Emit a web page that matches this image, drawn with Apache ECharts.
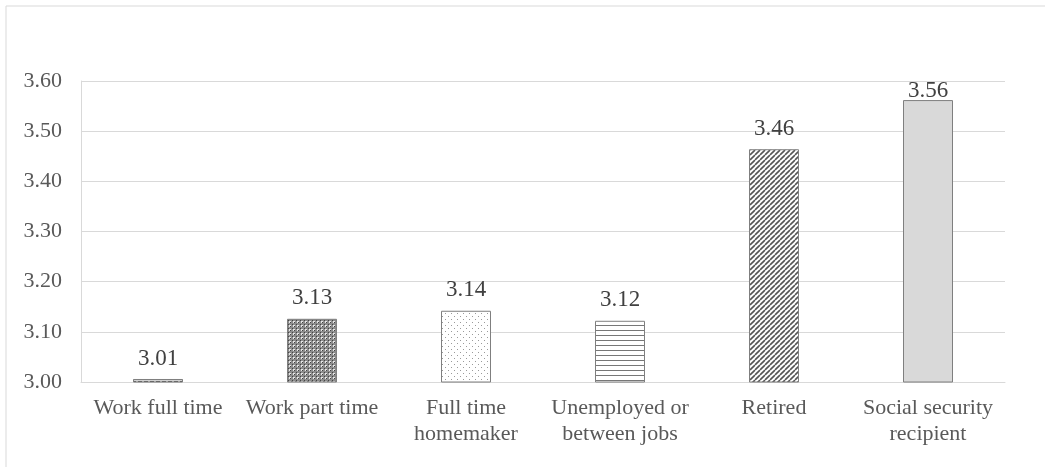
<!DOCTYPE html>
<html>
<head>
<meta charset="utf-8">
<script src="https://cdn.jsdelivr.net/npm/echarts@6/dist/echarts.min.js"></script>
<style>html,body{margin:0;padding:0;background:#fff}#c{width:1045px;height:467px}</style>
</head>
<body>
<div id="c"></div>
<script>
const categories = ['Work full time', 'Work part time', 'Full time\nhomemaker', 'Unemployed or\nbetween jobs', 'Retired', 'Social security\nrecipient'];
const values = [3.006, 3.126, 3.142, 3.122, 3.464, 3.562];
const yTicks = [3.00, 3.10, 3.20, 3.30, 3.40, 3.50, 3.60];

function pat(w, h, draw) {
  const c = document.createElement('canvas');
  c.width = w; c.height = h;
  const g = c.getContext('2d');
  draw(g);
  return { image: c, repeat: 'repeat' };
}
const patterns = [
  pat(6, 3, g => { g.fillStyle = '#d0d0d0'; g.fillRect(0,0,6,3); g.fillStyle = '#555'; g.fillRect(0,0,4,2); }),
  pat(4, 4, g => { g.fillStyle = '#8c8c8c'; g.fillRect(0,0,4,4); g.fillStyle = '#e6e6e6'; g.fillRect(1,1,2,2); g.fillStyle = '#444'; g.fillRect(0,0,1,1); g.fillRect(2,2,1,1); }),
  pat(6, 6, g => { g.fillStyle = '#ffffff'; g.fillRect(0,0,6,6); g.fillStyle = '#9a9a9a'; g.fillRect(1,1,1,1); g.fillRect(4,4,1,1); }),
  pat(5, 5, g => { g.fillStyle = '#ffffff'; g.fillRect(0,0,5,5); g.fillStyle = '#777'; g.fillRect(0,0,5,1); }),
  pat(5, 5, g => { g.fillStyle = '#ffffff'; g.fillRect(0,0,5,5); g.strokeStyle = '#555'; g.lineWidth = 1.6; g.beginPath(); for (let k=-5;k<=10;k+=5){ g.moveTo(k,5); g.lineTo(k+5,0);} g.stroke(); }),
  '#d9d9d9'
];

const chart = echarts.init(document.getElementById('c'), null, { renderer: 'canvas' });
chart.setOption({
  animation: false,
  backgroundColor: '#fff',
  graphic: [{
    type: 'rect', shape: { x: 6, y: 6, width: 1200, height: 600 },
    style: { fill: 'none', stroke: '#d9d9d9', lineWidth: 1 }, silent: true, z: -1
  }],
  grid: { left: 81, right: 40, top: 81, bottom: 85 },
  xAxis: {
    type: 'category', data: categories,
    axisLine: { lineStyle: { color: '#d9d9d9' } },
    axisTick: { show: false },
    axisLabel: { interval: 0, margin: 13, color: '#595959', fontFamily: 'Liberation Serif', fontSize: 22, lineHeight: 26 }
  },
  yAxis: {
    type: 'value', min: 3.0, max: 3.6, interval: 0.1,
    axisLine: { show: true, lineStyle: { color: '#d9d9d9' } },
    axisTick: { show: false },
    splitLine: { lineStyle: { color: '#d9d9d9' } },
    axisLabel: { margin: 19, color: '#595959', fontFamily: 'Liberation Serif', fontSize: 22,
      formatter: v => { const t = yTicks.find(x => Math.abs(x - v) < 1e-6); return (t !== undefined ? t : v).toFixed(2); } }
  },
  series: [{
    type: 'bar', barWidth: 50,
    data: values.map((v, i) => {
      const item = { value: v, itemStyle: { color: patterns[i], borderColor: '#7f7f7f', borderWidth: 1 } };
      if (i === values.length - 1) item.label = { offset: [0, 11] };
      return item;
    }),
    label: { show: true, position: 'top', distance: 9, color: '#404040', fontFamily: 'Liberation Serif', fontSize: 23,
      formatter: p => p.value.toFixed(2) }
  }]
});
</script>
</body>
</html>
